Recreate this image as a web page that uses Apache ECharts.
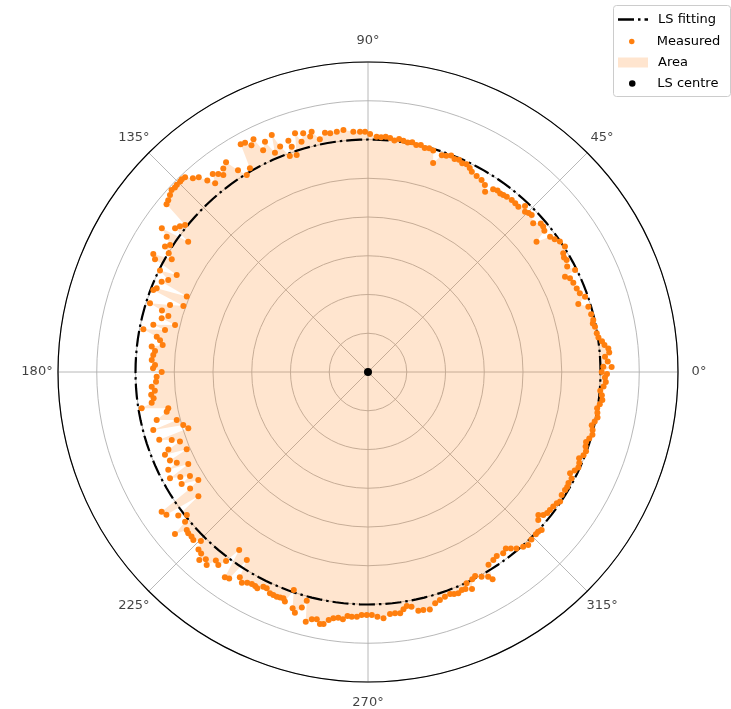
<!DOCTYPE html>
<html><head><meta charset="utf-8">
<script src="https://cdn.jsdelivr.net/npm/echarts@6/dist/echarts.min.js"></script>
<style>html,body{margin:0;padding:0;background:#fff}#c{width:731px;height:709px}</style>
</head><body><div id="c"></div>
<script>
// ---- data ----
const angleTicks = [0, 45, 90, 135, 180, 225, 270, 315];
const radiusMax = 310;
const radiusStep = 38.75;
const lsRadius = 232.5;
const lsCentre = [0, 0];
const labelRadius = 331;

const measuredAngle = [
  0, 1.2, 1.3, 2.5, 3.7, 4.6, 5.6, 6.5, 7.5, 8.5,
  9.6, 11.3, 12.2, 13, 14.5, 16.5, 17.9, 19.1, 20.4, 21.8,
  23.5, 24.9, 25.8, 26.2, 27.9, 29.4, 30.3, 31.3, 32.5, 34.2,
  35.4, 36.6, 37.7, 38.7, 39.7, 40.7, 42, 43.8, 44.7, 45.6,
  46.6, 47.7, 48.9, 50.1, 51.6, 52.6, 53.5, 54.5, 55.6, 57,
  58, 59.4, 61, 62.6, 63.5, 64.6, 65.7, 66.8, 67.9, 69,
  70.1, 71.2, 72.7, 73.6, 74.7, 75.8, 76.9, 78, 79.1, 80.2,
  81.3, 82.4, 83.5, 84.6, 85.7, 86.8, 87.9, 89.5, 90.7, 91.9,
  93.5, 95.8, 97.4, 99, 100.2, 101.7, 103.2, 103.8, 105.2, 106.1,
  107, 108.2, 108.7, 109, 109.9, 111.3, 112.1, 113, 114.1, 115.3,
  116.2, 117.2, 118.2, 119.2, 120.1, 121.6, 122.8, 124.1, 125.4, 126.3,
  127.1, 128.1, 129, 130, 131, 132.1, 133.2, 134, 134.6, 135.6,
  136.3, 137.2, 138.2, 139.3, 140.2, 141.2, 142.2, 143.3, 144.1, 145.1,
  146.1, 147.3, 148.3, 149.2, 150.1, 151.2, 152.1, 153.1, 154, 155.3,
  156.4, 157.4, 158.4, 159.1, 160.3, 161.3, 162.5, 163.4, 164.3, 165.4,
  166.3, 167.6, 168.3, 169.2, 170.5, 171.3, 172.5, 173.3, 174.4, 175.5,
  176.8, 178.1, 179, 180, 181.3, 182.6, 183.9, 185, 186, 187,
  188.1, 189.1, 190.3, 191.2, 192.8, 194.1, 195.1, 196, 197.4, 198,
  199.1, 200.3, 201.2, 202.2, 203.1, 204.1, 205.4, 206.1, 207.1, 208.2,
  209.2, 210.3, 211, 212.5, 213.2, 214.1, 215.3, 216.2, 217.1, 218.3,
  219.3, 220, 221.1, 221.9, 223, 223.9, 225.3, 226.3, 227.4, 228.1,
  229.1, 230.1, 231.1, 232.2, 233.1, 234.1, 235.1, 236.1, 237.2, 238,
  239.1, 240.2, 241.3, 242.2, 242.9, 244, 244.9, 246.1, 247, 247.9,
  248.7, 249.5, 250.1, 251.2, 252.3, 253.1, 254.3, 255, 256, 257.2,
  258.3, 259.2, 260, 261, 262, 263.1, 264.2, 265.2, 266.2, 267.4,
  268.5, 269.7, 270.9, 272.2, 273.6, 275.2, 276.4, 277.6, 278.5, 279.4,
  280.5, 281.9, 283.1, 284.6, 286.2, 287.5, 288.9, 290.3, 291.2, 292.2,
  293.3, 294.2, 295, 295.6, 296.7, 297.7, 299, 300.4, 301, 302,
  303.7, 305, 306.7, 308, 309, 310.1, 311.6, 312.8, 314.3, 316,
  316.8, 317.7, 319, 320, 320.8, 321.8, 322.8, 324, 325.2, 326,
  327.6, 329.1, 330, 331, 332.4, 333.4, 334.5, 335.6, 336.7, 337.8,
  338.9, 340, 341.1, 342.2, 343.3, 344.4, 345.5, 346.6, 347.7, 348.8,
  349.9, 351, 352.1, 353.2, 354.3, 355.4, 356.5, 357.6, 358.7, 359.5
];
const measuredRadius = [
  233.7, 243.7, 235.4, 240, 237.5, 242, 241.5, 238, 236, 233,
  232, 231.5, 230, 231.2, 230.5, 229.8, 221, 229.7, 226, 224.8,
  223.9, 222.7, 218.8, 230.8, 225.4, 228, 227, 228.5, 233.5, 232,
  229, 226.8, 213, 226, 227.7, 227.9, 222.3, 226.8, 226, 224.4,
  228.5, 223.4, 224, 224.1, 223.5, 222.8, 222.2, 223, 221.5, 215,
  220.6, 223.1, 224.1, 225.6, 228, 230, 229, 231, 230, 232,
  230, 229, 219, 231, 232, 231, 233, 232, 234, 233,
  234, 235, 233, 235, 236, 235, 235.5, 238, 240.3, 240.4,
  240.8, 243.3, 242.3, 241.7, 243.1, 237.6, 246.8, 242.4, 247.3, 239.7,
  249.6, 228.4, 237.9, 244.6, 229.7, 241.9, 255.8, 238.2, 252.3, 245.4,
  259.4, 255, 260.2, 260.9, 235.4, 231.4, 240, 253.2, 249.8, 244.4,
  248.2, 251.6, 242.9, 250, 258, 261.2, 267.2, 268, 267.5, 267.5,
  267.1, 267.7, 265.6, 263.5, 262.2, 234.7, 238, 240.6, 222, 251.4,
  242.5, 235.2, 238.6, 232, 226.4, 245, 241, 214.5, 231.4, 219.9,
  225.2, 196.3, 227.3, 229.8, 196.1, 209, 228.6, 215, 207.4, 213.2,
  198.6, 219.8, 207.3, 228.7, 214.2, 210.4, 207.1, 217.8, 214, 215.4,
  216.6, 213.1, 215, 206.3, 211.4, 212.2, 216.8, 214, 218, 216,
  218.5, 229.2, 203, 205.2, 216.7, 197.2, 222.4, 192.2, 188.3, 219.5,
  207.7, 200.5, 214.1, 219.3, 197.1, 217, 211.7, 222.4, 201.9, 224.7,
  215, 206.2, 217.4, 201.2, 212.6, 249.2, 247, 210.2, 237.9, 230.9,
  236.4, 252, 240.5, 241.5, 241.3, 242.4, 237.6, 245.4, 246.5, 252.6,
  247.7, 251.5, 242.3, 244.2, 236.4, 219.7, 250.2, 248.9, 223.7, 241.9,
  245.6, 243, 241.8, 242, 243, 238.8, 238.9, 242, 242.3, 242.5,
  241.9, 241.6, 244.2, 230.2, 248, 251.5, 244.5, 236.7, 257.3, 253.6,
  252.6, 256.5, 255.9, 251.2, 248.7, 247.5, 248.6, 244.9, 245.2, 245,
  243, 243, 243, 244.9, 246.8, 243, 242.8, 243.4, 240, 237.2,
  238.7, 244, 244.3, 245.3, 240.8, 239.1, 237.5, 236.7, 238, 239,
  237.3, 238, 233.2, 240.7, 232, 230.4, 234.2, 237.4, 241.9, 227.4,
  225.9, 224.5, 226.2, 223.9, 227, 230.6, 233.7, 235.8, 234, 233.4,
  233.4, 234.8, 225.6, 222.4, 226.2, 228, 228.4, 229, 229.9, 231.7,
  229.4, 229.6, 230, 229.2, 229.7, 226, 229, 231, 230, 228,
  231, 232, 230, 229, 231, 233, 232, 230, 232, 234,
  233, 232, 234, 236, 235, 233, 236, 238, 237, 239
];

// ---- build ----
const FONT = 'DejaVu Sans';
const ORANGE = '#ff7f0e';
const AREA = 'rgba(255,127,14,0.2)';
const measured = measuredAngle.map((a, i) => [measuredRadius[i], a]);
const areaData = measured.concat([[measuredRadius[0], 360]]);
const lsData = [];
for (let a = 0; a <= 360; a += 2) lsData.push([lsRadius, a]);
const labelData = angleTicks.map(a => [labelRadius, a]);

const chart = echarts.init(document.getElementById('c'), null, { renderer: 'canvas' });
const legendText = { fontFamily: FONT, fontSize: 13, color: '#000', padding: [0, 0, 0, 5] };
function legendAt(left, top, item, w, h) {
  return { orient: 'vertical', left: left, top: top, padding: 0, itemWidth: w, itemHeight: h,
           textStyle: legendText, selectedMode: false, data: [item] };
}
chart.setOption({
  animation: false,
  polar: { center: [368, 372], radius: radiusMax },
  angleAxis: {
    type: 'value', min: 0, max: 360, interval: 45, startAngle: 0, clockwise: false,
    axisLine: { lineStyle: { color: '#000', width: 1.2 } },
    axisTick: { show: false }, axisLabel: { show: false },
    splitLine: { show: true, lineStyle: { color: '#b0b0b0', width: 0.9 } }
  },
  radiusAxis: {
    type: 'value', min: 0, max: radiusMax, interval: radiusStep,
    axisLine: { show: false }, axisTick: { show: false }, axisLabel: { show: false },
    splitLine: { show: true, lineStyle: { color: '#b0b0b0', width: 0.9 } }
  },
  graphic: [{
    type: 'rect', left: 613, top: 5, z: 0,
    shape: { width: 117, height: 91, r: 3 },
    style: { fill: 'rgba(255,255,255,0.8)', stroke: '#cccccc', lineWidth: 1 }
  }],
  legend: [
    legendAt(618, 13, { name: 'LS fitting', icon: 'path://M0,0H16V2.5H0Z M20,0H22.5V2.5H20Z M26.5,0H30V2.5H26.5Z',
      itemStyle: { color: '#000', borderWidth: 0 } }, 30, 2.5),
    legendAt(629, 35, { name: 'Measured', icon: 'circle', itemStyle: { color: ORANGE, borderWidth: 0 } }, 30, 5.5),
    legendAt(618, 56, { name: 'Area', icon: 'rect', itemStyle: { color: AREA, borderWidth: 0 } }, 30, 10),
    legendAt(629, 77, { name: 'LS centre', icon: 'circle', itemStyle: { color: '#000', borderWidth: 0 } }, 30, 6.5)
  ],
  series: [
    { name: 'Area', type: 'line', coordinateSystem: 'polar', data: areaData,
      symbol: 'none', showSymbol: false, silent: true, z: 1,
      lineStyle: { width: 0, opacity: 0, color: AREA }, itemStyle: { color: AREA },
      areaStyle: { color: AREA, opacity: 1 } },
    { name: 'LS fitting', type: 'line', coordinateSystem: 'polar', data: lsData,
      symbol: 'none', showSymbol: false, silent: true, z: 3,
      lineStyle: { color: '#000', width: 2.2, type: [16, 4, 2.5, 4] }, itemStyle: { color: '#000' } },
    { name: 'Measured', type: 'scatter', coordinateSystem: 'polar', data: measured,
      symbolSize: 6, z: 4, itemStyle: { color: ORANGE, opacity: 1 } },
    { name: 'LS centre', type: 'scatter', coordinateSystem: 'polar', data: [lsCentre],
      symbolSize: 8, z: 5, itemStyle: { color: '#000', opacity: 1 } },
    { name: 'angleLabels', type: 'scatter', coordinateSystem: 'polar', data: labelData,
      symbolSize: 0, clip: false, silent: true, z: 5,
      label: { show: true, position: 'inside', formatter: p => p.value[1] + '°',
               fontFamily: FONT, fontSize: 13, color: '#111' } }
  ]
});
</script>
</body></html>
